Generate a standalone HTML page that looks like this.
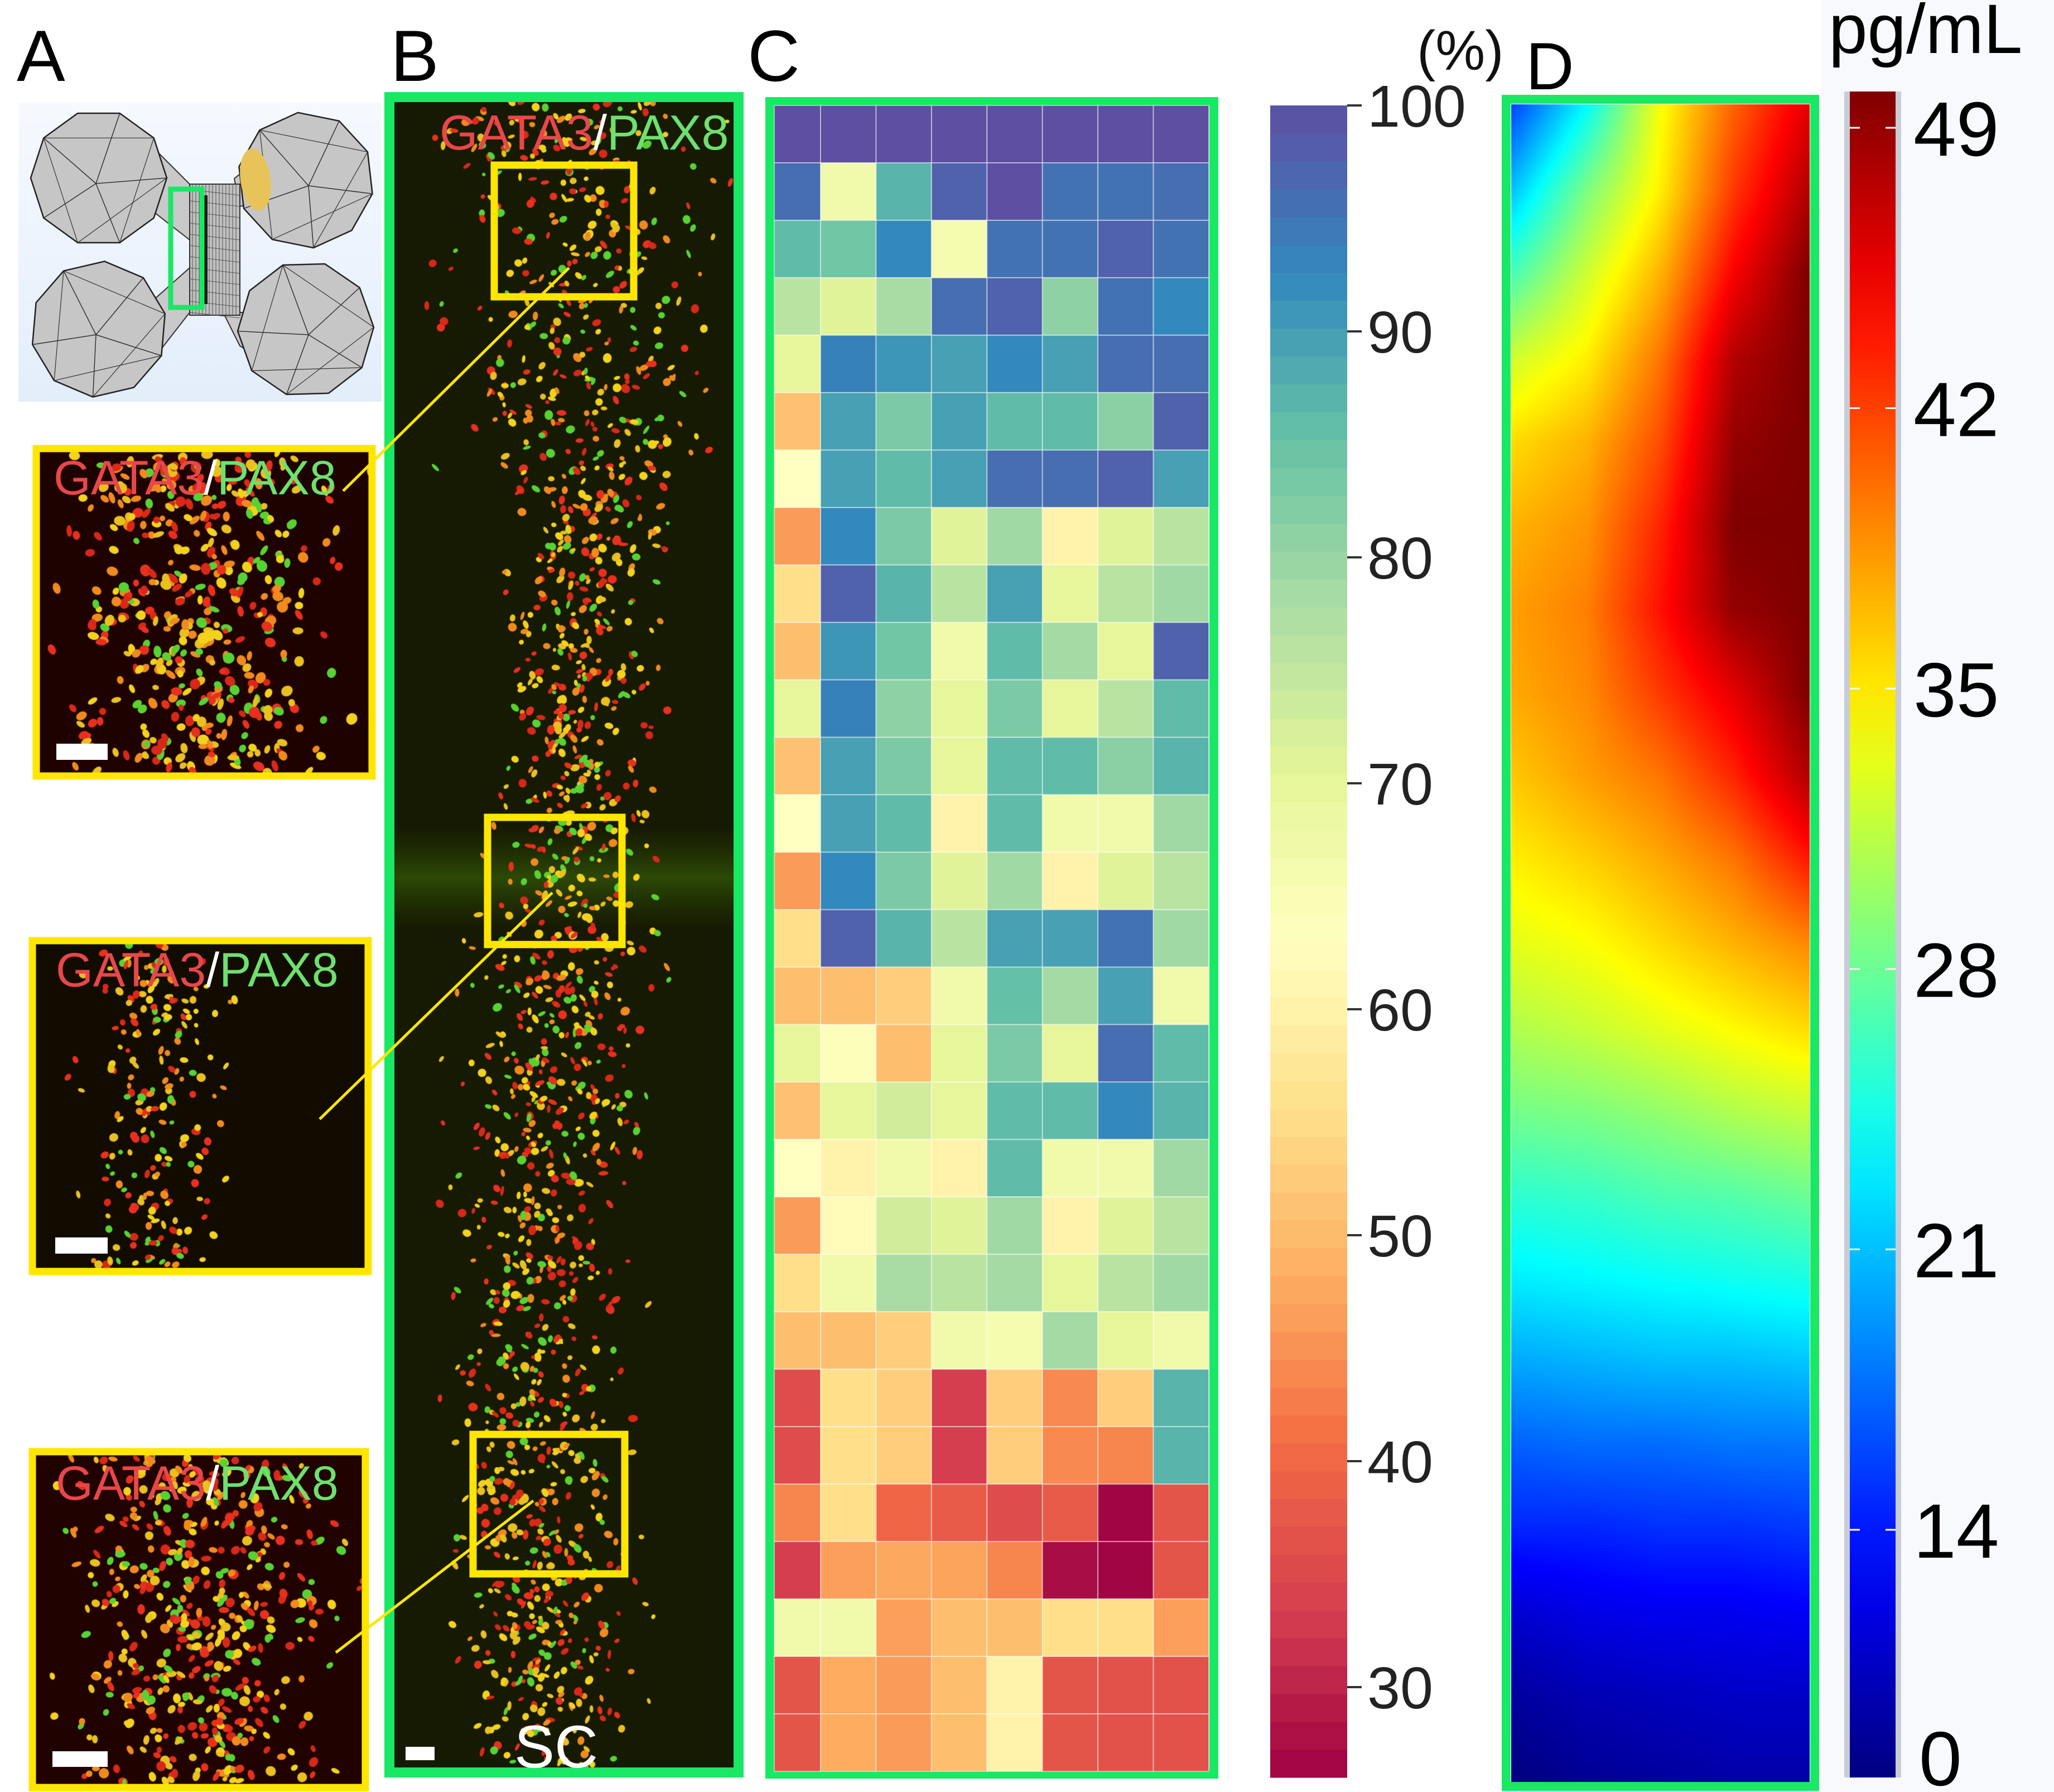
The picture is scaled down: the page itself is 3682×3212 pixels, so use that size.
<!DOCTYPE html>
<html><head><meta charset="utf-8"><style>
html,body{margin:0;padding:0;background:#fff;}
#root{position:relative;width:3682px;height:3212px;overflow:hidden;font-family:"Liberation Sans",Arial,sans-serif;}
canvas{position:absolute;}
svg{position:absolute;left:0;top:0;}
</style></head><body>
<div id="root">
<canvas id="cvB" style="left:707px;top:183px" width="608" height="2985"></canvas>
<canvas id="cv1" style="left:71px;top:810px" width="590" height="575"></canvas>
<canvas id="cv2" style="left:64px;top:1692px" width="590" height="581"></canvas>
<canvas id="cv3" style="left:64px;top:2608px" width="585" height="590"></canvas>
<canvas id="cvD" style="left:2709px;top:187px;width:535px;height:3008px" width="54" height="300"></canvas>
<svg id="svg" width="3682" height="3212" viewBox="0 0 3682 3212"></svg>
</div>
<script>
// ---- Panel C heatmap data (percent) ----
const hmRow0=[100,100,100,100,100,100,100,100];
const hmRow1=[96,67,87,97.5,100,95.5,95.5,96];
const hmRow2=[86,84,92.5,66,95.5,95.5,97.5,95.5];
const hmRow3=[76,71,78,96,97.5,81,95.5,92.5];
const hmRow4=[70,93.5,91,89.6,92.5,89.6,96,96];
const hmRow5=[51,89.6,83,89.6,86,86,81.5,97.5];
const hmRow6=[63,89.6,86,89.6,96,96,97.5,89.6];
const hmRow7=[46,92.5,83,71,79,60,71,76];
const hmRow8=[55.6,97.5,87,76,89.5,70,76,79];
const hmRow9=[50.5,91,84,67,86,78.5,70,97.5];
const hmRow10=[70,93.5,81,70,83,70,76,86];
const hmRow11=[51,89.6,83,70,86,86,81.5,87];
const hmRow12=[63,89.6,86,60,86,67,67,79];
const hmRow13=[46,92.5,83,71,79,60,71,76];
const hmRow14=[55.6,97.5,87,76,89.5,89.6,95.5,79];
const hmRow15=[50.5,50.5,53,67,85.5,78.5,89.6,67];
const hmRow16=[70,64,50.5,70,83,70,96,86];
const hmRow17=[51,70,73,70,86,86,92.5,87];
const hmRow18=[63,60,67,60,86,67,67,79];
const hmRow19=[46,62,73,71,79,60,71,76];
const hmRow20=[55.6,67,78,76,78.5,70,76,79];
const hmRow21=[50.5,50.5,53,67,66,78.5,70,67];
const hmRow22=[35.6,55.6,53,33.4,53,44,53,87];
const hmRow23=[35.6,55.6,53,33.4,53,44,43.5,87];
const hmRow24=[43.5,55.6,39.5,38,35.6,38,26.5,37];
const hmRow25=[33.4,46.5,47.5,47,43.5,27.5,26.5,37];
const hmRow26=[67,67,46.5,50.5,50.5,55.6,55.6,46.5];
const hmRow27=[37,48,46,50.5,60,37,36.5,36.5];
const hmRow28=[37,48,46,50.5,60,37,36.5,36.5];
const hmRows=[hmRow0,hmRow1,hmRow2,hmRow3,hmRow4,hmRow5,hmRow6,hmRow7,hmRow8,hmRow9,hmRow10,hmRow11,hmRow12,hmRow13,hmRow14,hmRow15,hmRow16,hmRow17,hmRow18,hmRow19,hmRow20,hmRow21,hmRow22,hmRow23,hmRow24,hmRow25,hmRow26,hmRow27,hmRow28];
const cbTicks=[100,90,80,70,60,50,40,30];
const cbMin=26, cbMax=100;
// ---- Panel D colorbar ticks ----
const jetTickLabels=["49","42","35","28","21","14"];
const jetTickValues=[49,42,35,28,21,14];

const NS="http://www.w3.org/2000/svg";
const svg=document.getElementById('svg');
function el(tag,attrs,parent){const e=document.createElementNS(NS,tag);for(const k in attrs)e.setAttribute(k,attrs[k]);(parent||svg).appendChild(e);return e;}
function txt(s,attrs,parent){const e=el('text',attrs,parent);e.textContent=s;return e;}

const spec=[[158,1,66],[213,62,79],[244,109,67],[253,174,97],[254,224,139],[255,255,191],[230,245,152],[171,221,164],[102,194,165],[50,136,189],[94,79,162]];
function spectral(t){t=Math.max(0,Math.min(1,t));const p=t*10,i=Math.min(9,Math.floor(p)),f=p-i;const a=spec[i],b=spec[i+1];return `rgb(${Math.round(a[0]+(b[0]-a[0])*f)},${Math.round(a[1]+(b[1]-a[1])*f)},${Math.round(a[2]+(b[2]-a[2])*f)})`;}
function jet(t){const c=x=>Math.round(255*Math.max(0,Math.min(1,x)));return [c(1.5-Math.abs(4*t-3)),c(1.5-Math.abs(4*t-2)),c(1.5-Math.abs(4*t-1))];}

// panel letters
txt('A',{x:30,y:145,'font-size':130,fill:'#000',});
txt('B',{x:700,y:145,'font-size':130,fill:'#000',});
txt('C',{x:1340,y:145,'font-size':130,fill:'#000',});
txt('D',{x:2735,y:160,'font-size':120,fill:'#000',});

// ---- Panel A schematic ----
const gA=el('g',{});
const defs=el('defs',{});
const lg=el('linearGradient',{id:'bgA',x1:0,y1:0,x2:0,y2:1},defs);
el('stop',{offset:0,'stop-color':'#f6f9fe'},lg);el('stop',{offset:1,'stop-color':'#e3eefb'},lg);
el('rect',{x:33,y:184,width:651,height:536,fill:'url(#bgA)'},gA);
el('polygon',{points:'270,260 340,330 340,430 250,360',fill:'#c9c9c9',stroke:'#333','stroke-width':2},gA);
el('polygon',{points:'250,560 340,480 340,560 270,650',fill:'#c9c9c9',stroke:'#333','stroke-width':2},gA);
el('polygon',{points:'420,320 470,280 480,360 430,370',fill:'#c9c9c9',stroke:'#333','stroke-width':2},gA);
el('polygon',{points:'400,560 470,560 480,650 430,620',fill:'#c9c9c9',stroke:'#333','stroke-width':2},gA);
el('rect',{x:340,y:330,width:90,height:235,fill:'#c0c0c0',stroke:'#333','stroke-width':2},gA);
for(let i=0;i<14;i++){el('line',{x1:345+i*6,y1:330,x2:345+i*6,y2:565,stroke:'#555','stroke-width':1},gA);}
for(let i=0;i<12;i++){el('line',{x1:340,y1:340+i*20,x2:430,y2:350+i*20,stroke:'#555','stroke-width':1},gA);}
el('rect',{x:360,y:350,width:12,height:195,fill:'#1a1a1a'},gA);
const circs=[[177,319],[548,323],[177,590],[548,590]];
circs.forEach((c,k)=>{
  const pts=[];for(let i=0;i<10;i++){const a=i*Math.PI/5+0.2*k;pts.push([c[0]+122*Math.cos(a),c[1]+122*Math.sin(a)]);}
  el('polygon',{points:pts.map(p=>p.join(',')).join(' '),fill:'#c6c6c6',stroke:'#222','stroke-width':2.5},gA);
  pts.forEach((p,i)=>{if(i%2==0)el('line',{x1:c[0]+(k%2?5:-5),y1:c[1]+10,x2:p[0],y2:p[1],stroke:'#333','stroke-width':1.5},gA);
    const q=pts[(i+3)%10];if(i%3==0)el('line',{x1:p[0],y1:p[1],x2:q[0],y2:q[1],stroke:'#333','stroke-width':1.2},gA);});
});
el('ellipse',{cx:458,cy:322,rx:27,ry:56,transform:'rotate(-8 458 322)',fill:'#e8c35a'},gA);
el('rect',{x:306,y:339,width:56,height:212,fill:'none',stroke:'#19e865','stroke-width':9,},gA);

// ---- Panel B / insets frames and overlays ----
el('rect',{x:698,y:174,width:626,height:3003,fill:'none',stroke:'#19e865','stroke-width':18,});
[[65,804,602,587,'inset-frame-1'],[58,1686,602,593,'inset-frame-2'],[58,2602,597,602,'inset-frame-3']].forEach(r=>{
  el('rect',{x:r[0],y:r[1],width:r[2],height:r[3],fill:'none',stroke:'#ffe600','stroke-width':13,});});
[[886,296,250,236,'zoom-box-1'],[874,1465,241,228,'zoom-box-2'],[848,2571,272,250,'zoom-box-3']].forEach(r=>{
  el('rect',{x:r[0],y:r[1],width:r[2],height:r[3],fill:'none',stroke:'#ffe600','stroke-width':13,});});
[[1020,480,615,880],[990,1600,573,2006],[956,2690,602,2962]].forEach((l,i)=>{
  el('line',{x1:l[0],y1:l[1],x2:l[2],y2:l[3],stroke:'#ffe600','stroke-width':5,});});
function stainLabel(x,y,fs,name){const t=el('text',{x:x,y:y,'font-size':fs,});
  const a=document.createElementNS(NS,'tspan');a.setAttribute('fill','#e8474a');a.textContent='GATA3';t.appendChild(a);
  const b=document.createElementNS(NS,'tspan');b.setAttribute('fill','#ffffff');b.textContent='/';t.appendChild(b);
  const c=document.createElementNS(NS,'tspan');c.setAttribute('fill','#6ee06e');c.textContent='PAX8';t.appendChild(c);}
stainLabel(788,268,88,'stain-label-b');
stainLabel(96,886,86,'stain-label-1');
stainLabel(100,1768,86,'stain-label-2');
stainLabel(100,2688,86,'stain-label-3');
[[101,1333,92,29],[99,2218,94,29],[94,3139,99,28],[727,3131,52,24]].forEach((r,i)=>{
  el('rect',{x:r[0],y:r[1],width:r[2],height:r[3],fill:'#fff',});});
txt('SC',{x:922,y:3168,'font-size':108,fill:'#fff',});

// ---- Panel C heatmap ----
el('rect',{x:1380,y:182,width:796,height:2998,fill:'none',stroke:'#19e865','stroke-width':16,});
const hmX0=1388,hmX1=2167,hmY0=189,hmY1=3175,col0W=83;
const nRows=hmRows.length,nCols=hmRows[0].length;
const rowH=(hmY1-hmY0)/nRows, colW=(hmX1-hmX0-col0W)/(nCols-1);
function colX(j){return j===0?hmX0:hmX0+col0W+(j-1)*colW;}
function colWidth(j){return j===0?col0W:colW;}
function norm(v){return (v-cbMin)/(cbMax-cbMin);}
const gH=el('g',{});
hmRows.forEach((row,i)=>row.forEach((v,j)=>{
  const r=el('rect',{x:colX(j),y:hmY0+i*rowH,width:colWidth(j),height:rowH,fill:spectral(norm(v)),stroke:'rgba(255,255,255,0.45)','stroke-width':2},gH);
  
  
}));
const cbX=2277,cbW=138,cbTop=189,cbBot=3186;
function cbY(v){return cbTop+(cbMax-v)/(cbMax-cbMin)*(cbBot-cbTop);}
const gCB=el('g',{});
const nb=60;
for(let k=0;k<nb;k++){const v0=cbMin+(cbMax-cbMin)*k/nb,v1=cbMin+(cbMax-cbMin)*(k+1)/nb;
  el('rect',{x:cbX,y:cbY(v1),width:cbW,height:cbY(v0)-cbY(v1)+0.5,fill:spectral(norm((v0+v1)/2))},gCB);}
cbTicks.forEach(v=>{
  el('line',{x1:cbX+cbW,y1:cbY(v),x2:cbX+cbW+26,y2:cbY(v),stroke:'#333','stroke-width':4},gCB);
  const t=txt(String(v),{x:cbX+cbW+36,y:cbY(v)+38,'font-size':106,fill:'#222'},gCB);
  
  
});
txt('(%)',{x:2540,y:125,'font-size':100,fill:'#111',});

// ---- Panel D ----
el('rect',{x:3264,y:0,width:418,height:3212,fill:'#f7f9fd'},svg);
el('rect',{x:2700,y:178,width:553,height:3024,fill:'none',stroke:'#19e865','stroke-width':16,});
const jg=el('linearGradient',{id:'jetg',x1:0,y1:1,x2:0,y2:0},defs);
for(let k=0;k<=20;k++){const t=k/20;const c=jet(t);el('stop',{offset:t,'stop-color':`rgb(${c[0]},${c[1]},${c[2]})`},jg);}
const jX=3316,jW=82,jTop=164,jBot=3186;
el('rect',{x:jX-10,y:jTop,width:jW+20,height:jBot-jTop,fill:'#c8ccd6'});
el('rect',{x:jX,y:jTop,width:jW,height:jBot-jTop,fill:'url(#jetg)',});
function jY(v){return 229+(49-v)*71.8;}
jetTickValues.forEach((v,i)=>{
  el('line',{x1:jX,y1:jY(v),x2:jX+18,y2:jY(v),stroke:'#fff','stroke-width':3});
  el('line',{x1:jX+jW-18,y1:jY(v),x2:jX+jW,y2:jY(v),stroke:'#fff','stroke-width':3});
  const t=txt(jetTickLabels[i],{x:3430,y:jY(v)+50,'font-size':138,fill:'#000'});
  
  
});
txt('0',{x:3440,y:3200,'font-size':138,fill:'#000',});
txt('pg/mL',{x:3278,y:95,'font-size':125,fill:'#000',});

const fieldGrid=[[.2,.38,.62,.78,.9],[.32,.5,.64,.82,.95],[.45,.58,.7,.88,1],[.58,.64,.76,.95,1],[.66,.7,.8,.98,1],[.7,.73,.84,1,1],[.72,.75,.86,.98,1],[.71,.74,.82,.9,1],[.68,.72,.76,.84,.95],[.64,.67,.71,.76,.85],[.6,.62,.66,.7,.74],[.55,.57,.6,.63,.66],[.49,.5,.52,.55,.57],[.42,.43,.45,.46,.48],[.36,.37,.38,.39,.4],[.29,.3,.31,.31,.32],[.22,.23,.23,.24,.24],[.16,.16,.17,.17,.18],[.08,.1,.11,.11,.12],[.03,.05,.06,.07,.07],[0,.02,.03,.04,.04]];
(function(){const cv=document.getElementById('cvD'),ctx=cv.getContext('2d');const W=cv.width,H=cv.height;const im=ctx.createImageData(W,H);
 for(let y=0;y<H;y++)for(let x=0;x<W;x++){const u=x/(W-1)*4,v=y/(H-1)*20;const i=Math.min(3,Math.floor(u)),j=Math.min(19,Math.floor(v));const fu=u-i,fv=v-j;
  const t=(fieldGrid[j][i]*(1-fu)+fieldGrid[j][i+1]*fu)*(1-fv)+(fieldGrid[j+1][i]*(1-fu)+fieldGrid[j+1][i+1]*fu)*fv;
  const c=jet(t);const o=(y*W+x)*4;im.data[o]=c[0];im.data[o+1]=c[1];im.data[o+2]=c[2];im.data[o+3]=255;}
 ctx.putImageData(im,0,0);})();

// ---- micrograph textures (decorative) ----
let seed=12345;function rnd(){seed=(seed*1103515245+12345)%2147483648;return seed/2147483648;}
function gauss(){return (rnd()+rnd()+rnd()-1.5)/1.5;}
const cellCols=['#e8301e','#f2d21c','#f08a1e','#58d232','#d82818','#e8c020'];
function drawCells(id,bg,n,cx,spread,r){const cv=document.getElementById(id),ctx=cv.getContext('2d');ctx.fillStyle=bg;ctx.fillRect(0,0,cv.width,cv.height);
 for(let k=0;k<n;k++){const y=rnd()*cv.height;const x=cx(y)+gauss()*spread(y);ctx.fillStyle=cellCols[Math.floor(rnd()*cellCols.length)];
  ctx.beginPath();ctx.ellipse(x,y,r*(0.5+rnd()*0.7),r*(0.5+rnd()*0.7),rnd()*3,0,6.3);ctx.fill();}}
(function(){const cv=document.getElementById('cvB'),ctx=cv.getContext('2d');ctx.fillStyle='#171a02';ctx.fillRect(0,0,608,2985);
 const g=ctx.createLinearGradient(0,1300,0,1480);g.addColorStop(0,'rgba(60,110,10,0)');g.addColorStop(0.5,'rgba(70,130,10,0.45)');g.addColorStop(1,'rgba(60,110,10,0)');ctx.fillStyle=g;ctx.fillRect(0,1300,608,180);})();
(function(){const cv=document.getElementById('cvB'),ctx=cv.getContext('2d');
 for(let k=0;k<1700;k++){const y=rnd()*2985;const c=300+40*Math.sin(y/500);const s=y<700?260:(y<1500?150:170);const x=c+gauss()*s*1.3;
  ctx.fillStyle=cellCols[Math.floor(rnd()*cellCols.length)];ctx.beginPath();ctx.ellipse(x,y,3+rnd()*5,3+rnd()*6,rnd()*3,0,6.3);ctx.fill();}})();
drawCells('cv1','#1e0200',480,y=>295,y=>330,9);
drawCells('cv2','#120c00',220,y=>210,y=>170,7);
drawCells('cv3','#200300',520,y=>290,y=>330,8);
</script>
</body></html>
